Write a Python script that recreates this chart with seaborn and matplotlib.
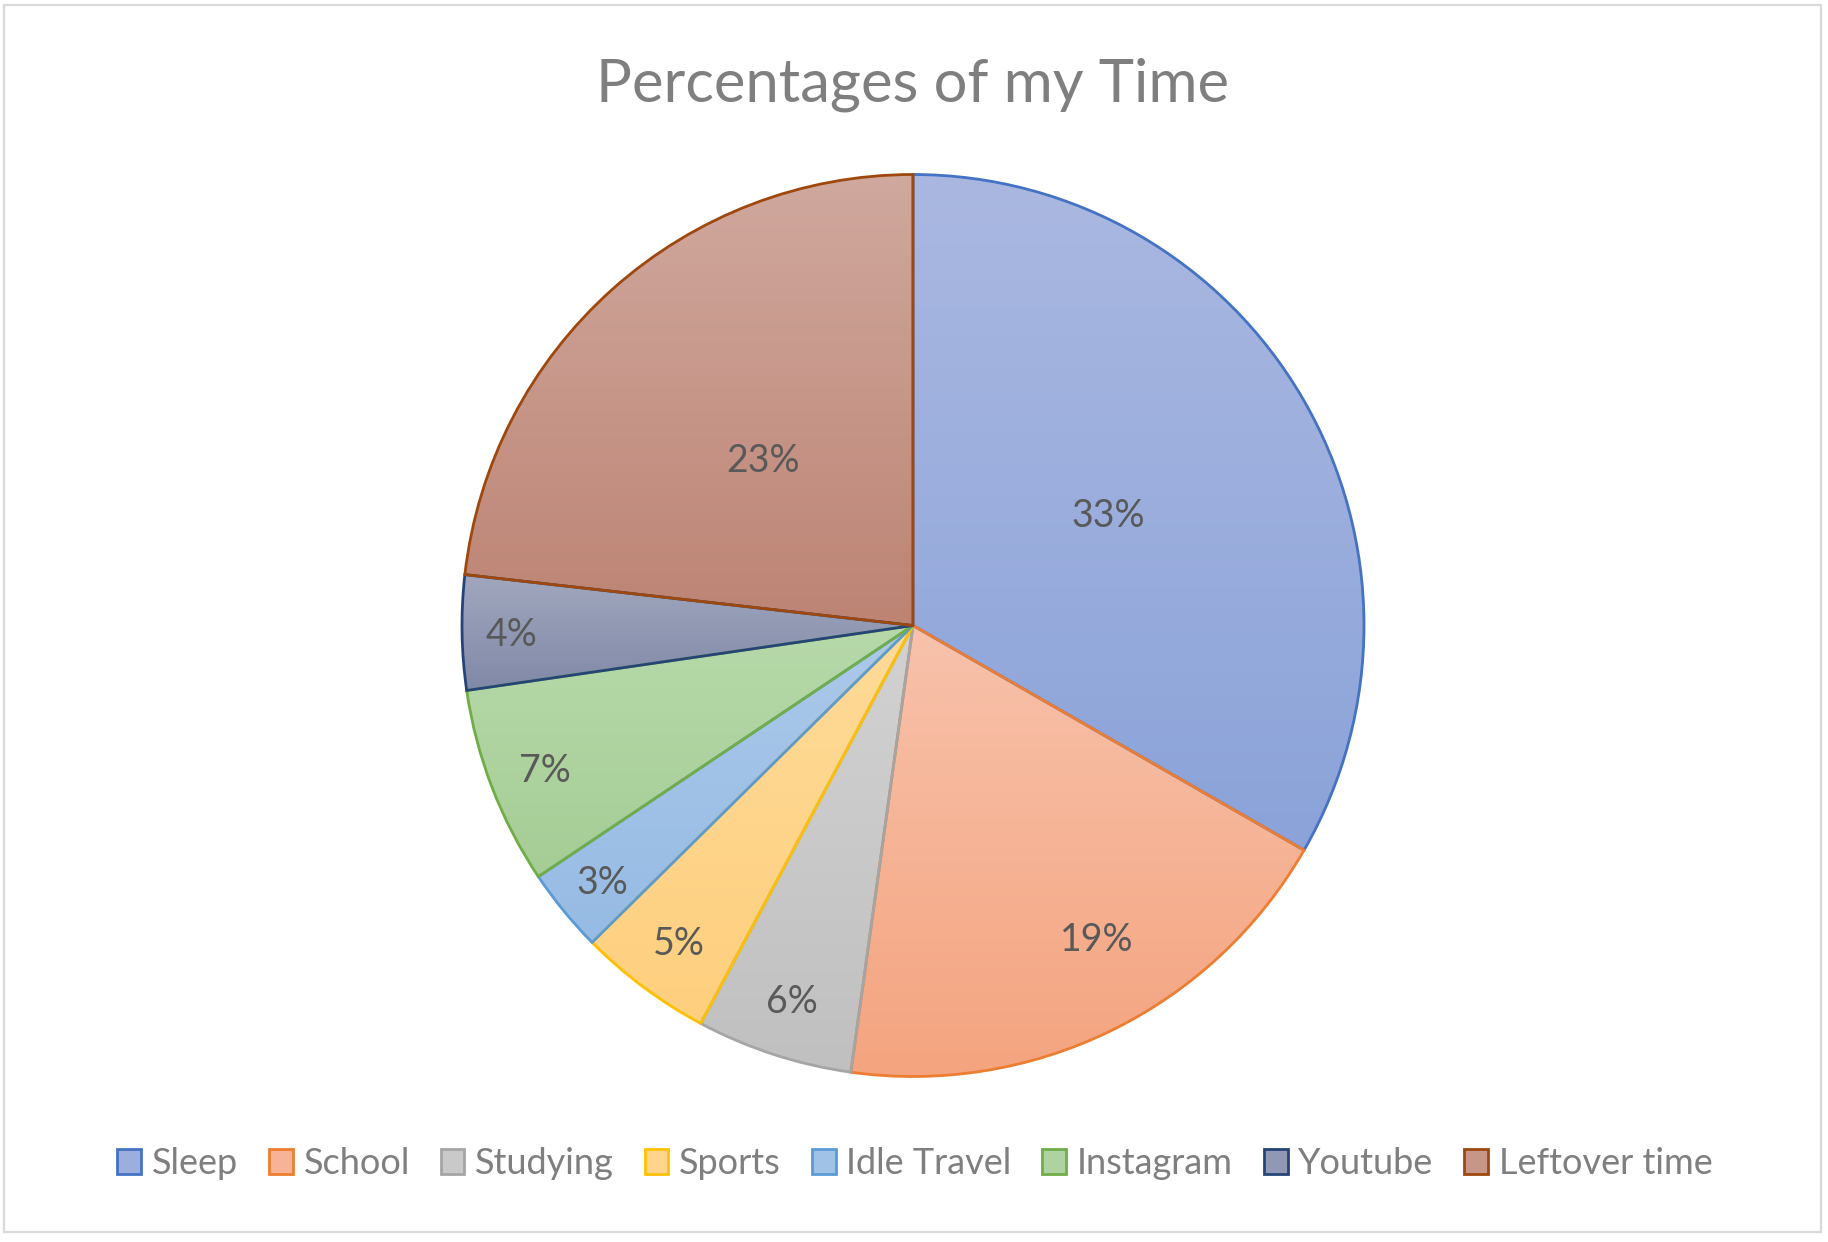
import numpy as np
import matplotlib
matplotlib.use("Agg")
import matplotlib.pyplot as plt
import matplotlib.patches as mpatches
from matplotlib.colors import to_rgb
import seaborn as sns

# ---- data ----
categories = ["Sleep", "School", "Studying", "Sports", "Idle Travel",
              "Instagram", "Youtube", "Leftover time"]
percentages = [33.3, 18.9, 5.6, 4.8, 3.0, 7.1, 4.1, 23.2]

# ---- style ----
edge_colors = ["#4472C4", "#ED7D31", "#A5A5A5", "#FFC000", "#5B9BD5",
               "#70AD47", "#264478", "#9E480E"]
top_colors = ["#AAB8E1", "#F8C2AB", "#D2D2D2", "#FFDB98", "#ABC9EA",
              "#B7D9AA", "#A0A7BD", "#D0A89E"]
bottom_colors = ["#8BA3D9", "#F4A47F", "#C0C0C0", "#FECF7E", "#96BBE4",
                 "#A5CD95", "#8189A8", "#BD8474"]
label_radius = [0.50, 0.80, 0.87, 0.87, 0.89, 0.875, 0.89, 0.50]
label_angle_shift = [0, 4.5, 0, 0, 0, 0, 0, 0]  # degrees, visual nudge

sns.set_theme(style="white")
plt.rcParams["font.family"] = ["Lato", "DejaVu Sans"]

W, H = 1828, 1242
fig = plt.figure(figsize=(W / 100, H / 100), dpi=100)
fig.patch.set_facecolor("white")

cx, cy, R = 913, 625.5, 451
ax = fig.add_axes([(cx - R) / W, 1 - (cy + R) / H, 2 * R / W, 2 * R / H])

wedges, _ = ax.pie(percentages, startangle=90, counterclock=False,
                   radius=1.0,
                   wedgeprops=dict(facecolor="none", linewidth=2.0))
for w, ec in zip(wedges, edge_colors):
    w.set_edgecolor(ec)
    w.set_zorder(3)

ax.set_aspect("equal")
ax.axis("off")

# gradient fills clipped to each wedge
for w, c0, c1 in zip(wedges, top_colors, bottom_colors):
    bb = w.get_path().get_extents()
    a = np.array(to_rgb(c0))
    b = np.array(to_rgb(c1))
    t = np.linspace(0, 1, 64)[:, None]
    grad = (a[None, :] * (1 - t) + b[None, :] * t)[:, None, :]
    im = ax.imshow(grad, extent=[bb.x0, bb.x1, bb.y0, bb.y1],
                   origin="upper", aspect="auto", interpolation="bilinear",
                   zorder=1)
    im.set_clip_path(w)
ax.set_xlim(-1, 1)
ax.set_ylim(-1, 1)
ax.set_aspect("equal")

# data labels
total = sum(percentages)
for w, p, f, s in zip(wedges, percentages, label_radius, label_angle_shift):
    mid = np.deg2rad((w.theta1 + w.theta2) / 2 + s)
    ax.text(f * np.cos(mid), f * np.sin(mid), f"{100 * p / total:.0f}%",
            ha="center", va="center_baseline", fontsize=27, color="#595959",
            zorder=5)

# title
fig.text(cx / W, 1 - 101 / H, "Percentages of my Time", ha="center",
         va="baseline", fontsize=43, color="#7F7F7F")

# legend
mid_colors = [tuple((np.array(to_rgb(a)) + np.array(to_rgb(b))) / 2)
              for a, b in zip(top_colors, bottom_colors)]
handles = [mpatches.Patch(facecolor=c, edgecolor=e, linewidth=2.0)
           for c, e in zip(mid_colors, edge_colors)]
fig.legend(handles, categories, loc="center", bbox_to_anchor=(915 / W, 1 - 1164 / H),
           ncol=8, frameon=False, fontsize=26, handlelength=0.66,
           handleheight=0.69, handletextpad=0.3, columnspacing=0.85,
           labelcolor="#7F7F7F")

# chart border
fig.patches.append(mpatches.Rectangle((4 / W, 1 - 1232 / H), 1817 / W, 1227 / H,
                                      transform=fig.transFigure, fill=False,
                                      edgecolor="#D9D9D9", linewidth=1.6))

fig.savefig("out.png", dpi=100, facecolor="white")
